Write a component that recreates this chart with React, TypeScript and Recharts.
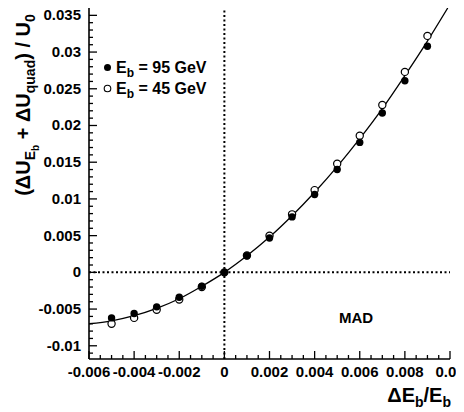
import React from "react";
import {
  ComposedChart,
  Line,
  Scatter,
  XAxis,
  YAxis,
  ReferenceLine,
} from "recharts";

// values
const xPoints = [-0.005, -0.004, -0.003, -0.002, -0.001, 0, 0.001, 0.002, 0.003, 0.004, 0.005, 0.006, 0.007, 0.008, 0.009];
const eb95 = [-0.0062, -0.0056, -0.0047, -0.0034, -0.0019, 0, 0.00227, 0.00468, 0.00755, 0.0106, 0.014, 0.0177, 0.0217, 0.0261, 0.0308];
const eb45 = [-0.007, -0.0062, -0.0051, -0.0037, -0.002, 0, 0.0023, 0.005, 0.0079, 0.0112, 0.0148, 0.0186, 0.0228, 0.0273, 0.0322];

const fitX = [-0.006, -0.005, -0.004, -0.003, -0.002, -0.001, 0, 0.001, 0.002, 0.003, 0.004, 0.005, 0.006, 0.007, 0.008, 0.009, 0.0099];
const fitY = [-0.007, -0.0066, -0.0059, -0.0049, -0.0036, -0.0019, 0, 0.00226, 0.0048, 0.0077, 0.0109, 0.0144, 0.0182, 0.0223, 0.0268, 0.0315, 0.036];

const xDomain = [-0.006, 0.01];
const yDomain = [-0.0118, 0.036];

const xMajorStep = 0.002;
const xMinorStep = 0.0005;
const yMajorStep = 0.005;
const yMinorStep = 0.001;

const font = "'Liberation Sans', Arial, Helvetica, sans-serif";

const makeTicks = (from: number, to: number, step: number) => {
  const out: number[] = [];
  const n = Math.round((to - from) / step);
  for (let i = 0; i <= n; i++) out.push(Number((from + i * step).toFixed(5)));
  return out;
};

const xTicks = makeTicks(-0.006, 0.01, xMinorStep);
const yTicks = makeTicks(-0.011, 0.035, yMinorStep);

const isMajor = (v: number, step: number) =>
  Math.abs(v / step - Math.round(v / step)) < 1e-6;

const fmt = (v: number) => String(Number(v.toFixed(4)));

const pts95 = xPoints.map((x, i) => ({ x, y: eb95[i] }));
const pts45 = xPoints.map((x, i) => ({ x, y: eb45[i] }));
const fitData = fitX.map((x, i) => ({ x, y: fitY[i] }));

const labelStyle = { fontFamily: font, fontWeight: 700, fontSize: 15, fill: "#000" };

const BottomTick = ({ x, y, payload }: any) => {
  const major = isMajor(payload.value, xMajorStep);
  return (
    <g>
      <line x1={x} x2={x} y1={y} y2={y - (major ? 8 : 4)} stroke="#000" strokeWidth={1.3} />
      {major && (
        <text x={x} y={y + 18} textAnchor="middle" {...labelStyle}>
          {fmt(payload.value)}
        </text>
      )}
    </g>
  );
};

const TopTick = ({ x, y, payload }: any) => {
  const major = isMajor(payload.value, xMajorStep);
  return <line x1={x} x2={x} y1={y} y2={y + (major ? 8 : 4)} stroke="#000" strokeWidth={1.3} />;
};

const LeftTick = ({ x, y, payload }: any) => {
  const major = isMajor(payload.value, yMajorStep);
  return (
    <g>
      <line x1={x} x2={x + (major ? 8 : 4)} y1={y} y2={y} stroke="#000" strokeWidth={1.3} />
      {major && (
        <text x={x - 8} y={y + 5} textAnchor="end" {...labelStyle}>
          {fmt(payload.value)}
        </text>
      )}
    </g>
  );
};

const RightTick = ({ x, y, payload }: any) => {
  const major = isMajor(payload.value, yMajorStep);
  return <line x1={x} x2={x - (major ? 8 : 4)} y1={y} y2={y} stroke="#000" strokeWidth={1.3} />;
};

const FilledDot = (p: any) => <circle cx={p.cx} cy={p.cy} r={3.7} fill="#000" />;
const OpenDot = (p: any) => (
  <circle cx={p.cx} cy={p.cy} r={3.6} fill="#fff" stroke="#000" strokeWidth={1.2} />
);

const Overlay = () => (
  <svg
    width={464}
    height={412}
    style={{ position: "absolute", left: 0, top: 0, pointerEvents: "none" }}
    fontFamily={font}
    fontWeight={700}
  >
    <text transform="translate(30,105) rotate(-90)" textAnchor="middle" fontSize={20}>
      (ΔU
      <tspan fontSize={14} dy={5}>E</tspan>
      <tspan fontSize={10} dy={4}>b</tspan>
      <tspan fontSize={20} dy={-9}> + ΔU</tspan>
      <tspan fontSize={14} dy={5}>quad</tspan>
      <tspan fontSize={20} dy={-5}>) / U</tspan>
      <tspan fontSize={14} dy={5}>0</tspan>
    </text>

    <text x={451} y={402} textAnchor="end" fontSize={20}>
      ΔE
      <tspan fontSize={14} dy={5}>b</tspan>
      <tspan fontSize={20} dy={-5}>/E</tspan>
      <tspan fontSize={14} dy={5}>b</tspan>
    </text>

    <circle cx={107.5} cy={67.5} r={3.5} fill="#000" />
    <text x={116} y={72.5} fontSize={16}>
      E<tspan fontSize={12} dy={4}>b</tspan>
      <tspan fontSize={16} dy={-4}> = 95 GeV</tspan>
    </text>
    <circle cx={107.5} cy={88.5} r={3.3} fill="#fff" stroke="#000" strokeWidth={1.1} />
    <text x={116} y={93.5} fontSize={16}>
      E<tspan fontSize={12} dy={4}>b</tspan>
      <tspan fontSize={16} dy={-4}> = 45 GeV</tspan>
    </text>

    <text x={356} y={323} textAnchor="middle" fontSize={15}>
      MAD
    </text>
  </svg>
);

export default function App() {
  return (
    <div style={{ position: "relative", width: 464, height: 412, margin: "-8px 0 0 -8px", background: "#fff" }}>
      <ComposedChart
        width={464}
        height={412}
        margin={{ top: 8, right: 14, bottom: 0, left: 0 }}
      >
        <XAxis
          xAxisId={0}
          dataKey="x"
          type="number"
          domain={xDomain}
          allowDataOverflow
          ticks={xTicks}
          interval={0}
          height={53}
          tickSize={0}
          tickMargin={0}
          tickLine={false}
          tick={<BottomTick />}
          axisLine={{ stroke: "#000", strokeWidth: 1.6 }}
        />
        <XAxis
          xAxisId="top"
          orientation="top"
          type="number"
          domain={xDomain}
          allowDataOverflow
          ticks={xTicks}
          interval={0}
          height={0}
          tickSize={0}
          tickMargin={0}
          tickLine={false}
          tick={<TopTick />}
          axisLine={{ stroke: "#000", strokeWidth: 1.6 }}
        />
        <YAxis
          yAxisId={0}
          dataKey="y"
          type="number"
          domain={yDomain}
          allowDataOverflow
          ticks={yTicks}
          interval={0}
          width={89}
          tickSize={0}
          tickMargin={0}
          tickLine={false}
          tick={<LeftTick />}
          axisLine={{ stroke: "#000", strokeWidth: 1.6 }}
        />
        <YAxis
          yAxisId="right"
          orientation="right"
          type="number"
          domain={yDomain}
          allowDataOverflow
          ticks={yTicks}
          interval={0}
          width={0}
          tickSize={0}
          tickMargin={0}
          tickLine={false}
          tick={<RightTick />}
          axisLine={{ stroke: "#000", strokeWidth: 1.6 }}
        />
        <ReferenceLine x={0} stroke="#000" strokeWidth={2} strokeDasharray="2 2.5" />
        <ReferenceLine y={0} stroke="#000" strokeWidth={2} strokeDasharray="2 2.5" />
        <Line
          data={fitData}
          dataKey="y"
          type="monotone"
          stroke="#000"
          strokeWidth={1.3}
          dot={false}
          activeDot={false}
          isAnimationActive={false}
        />
        <Scatter data={pts45} dataKey="y" shape={OpenDot} isAnimationActive={false} />
        <Scatter data={pts95} dataKey="y" shape={FilledDot} isAnimationActive={false} />
      </ComposedChart>
      <Overlay />
    </div>
  );
}
